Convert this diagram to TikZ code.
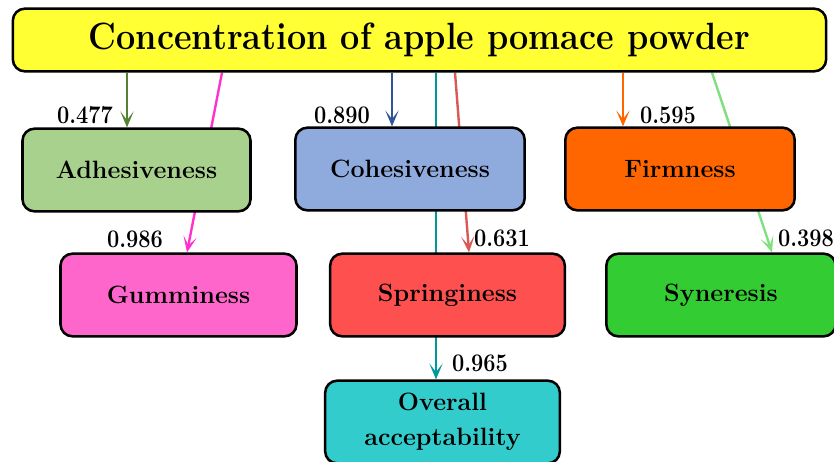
\documentclass[tikz,border=0pt]{standalone}
\usepackage{tikz}
\usetikzlibrary{arrows.meta, positioning, calc, backgrounds}
\definecolor{PomYellow}{RGB}{255, 255, 51}
\definecolor{AdhFill}{RGB}{169, 209, 142}
\definecolor{CohFill}{RGB}{143, 170, 220}
\definecolor{FirmFill}{RGB}{255, 102, 0}
\definecolor{GumFill}{RGB}{255, 102, 204}
\definecolor{SprFill}{RGB}{255, 80, 80}
\definecolor{SynFill}{RGB}{51, 204, 51}
\definecolor{OvrFill}{RGB}{51, 204, 204}
\definecolor{AdhLine}{RGB}{84, 130, 53}
\definecolor{GumLine}{RGB}{255, 51, 204}
\definecolor{CohLine}{RGB}{47, 85, 151}
\definecolor{OvrLine}{RGB}{0, 153, 153}
\definecolor{SprLine}{RGB}{217, 88, 88}
\definecolor{FirmLine}{RGB}{255, 102, 0}
\definecolor{SynLine}{RGB}{128, 224, 128}
\newcommand{\coef}[1]{\scalebox{0.86}[1]{#1}}

\begin{document}
\begin{tikzpicture}[x=0.75pt, y=-0.75pt,
    box/.style={draw=black, line width=1.9pt, rounded corners=9pt,
      minimum width=172pt, minimum height=62pt, align=center,
      font=\fontsize{18.8}{26}\selectfont\bfseries},
    num/.style={font=\fontsize{19}{20}\selectfont\bfseries, inner sep=0pt},
    link/.style={line width=1.8pt, -{Stealth[length=12pt, width=10pt, inset=6.5pt]}}]
  \useasboundingbox (0,0) rectangle (834,461);
  \clip (0,0) rectangle (834,461);

  % main factor
  \node[box, fill=PomYellow, minimum width=610pt, minimum height=47pt,
        font=\fontsize{28.5}{32}\selectfont\bfseries] (conc) at (419.5,40)
        {\scalebox{0.9}[1]{Concentration of apple pomace powder}};

  % texture attributes
  \node[box, fill=AdhFill, minimum width=171pt] (adh) at (136.5,170) {Adhesiveness};
  \node[box, fill=CohFill] (coh) at (410,169) {Cohesiveness};
  \node[box, fill=FirmFill] (firm) at (680,169) {Firmness};
  \node[box, fill=GumFill, minimum width=177pt] (gum) at (178.5,295) {Gumminess};
  \node[box, fill=SprFill, minimum width=176pt] (spr) at (447.5,295) {Springiness};
  \node[box, fill=SynFill] (syn) at (721,295) {Syneresis};
  \node[box, fill=OvrFill, minimum width=176pt] (ovr) at (442.5,422) {Overall\\acceptability};

  % coefficients
  \node[num] (nadh) at (85,115) {\coef{0.477}};
  \node[num] (ncoh) at (342,115) {\coef{0.890}};
  \node[num] (nfirm) at (668,115) {\coef{0.595}};
  \node[num] (ngum) at (135,239) {\coef{0.986}};
  \node[num] (nspr) at (502,238) {\coef{0.631}};
  \node[num] (nsyn) at (806,238) {\coef{0.398}};
  \node[num] (novr) at (480,363) {\coef{0.965}};

  \coordinate (tadh) at ($(adh.north)+(-9.5,0)$);
  \coordinate (tcoh) at ($(coh.north)+(-18,0)$);
  \coordinate (tfirm) at ($(firm.north)+(-57,0)$);
  \coordinate (tgum) at ($(gum.north)+(8.5,0)$);
  \coordinate (tspr) at ($(spr.north)+(21.5,0)$);
  \coordinate (tsyn) at ($(syn.north)+(51,0)$);
  \coordinate (tovr) at ($(ovr.north)+(-6.5,0)$);

  \begin{scope}[on background layer]
    \draw[link, AdhLine] (conc.south -| tadh) -- (tadh);
    \draw[link, GumLine] ($(conc.south)+(-197.5,0)$) -- (tgum);
    \draw[link, CohLine] (conc.south -| tcoh) -- (tcoh);
    \draw[link, OvrLine] (conc.south -| tovr) -- (tovr);
    \draw[link, SprLine] ($(conc.south)+(35.5,0)$) -- (tspr);
    \draw[link, FirmLine] (conc.south -| tfirm) -- (tfirm);
    \draw[link, SynLine] ($(conc.south)+(292.5,0)$) -- (tsyn);
  \end{scope}
\end{tikzpicture}
\end{document}
